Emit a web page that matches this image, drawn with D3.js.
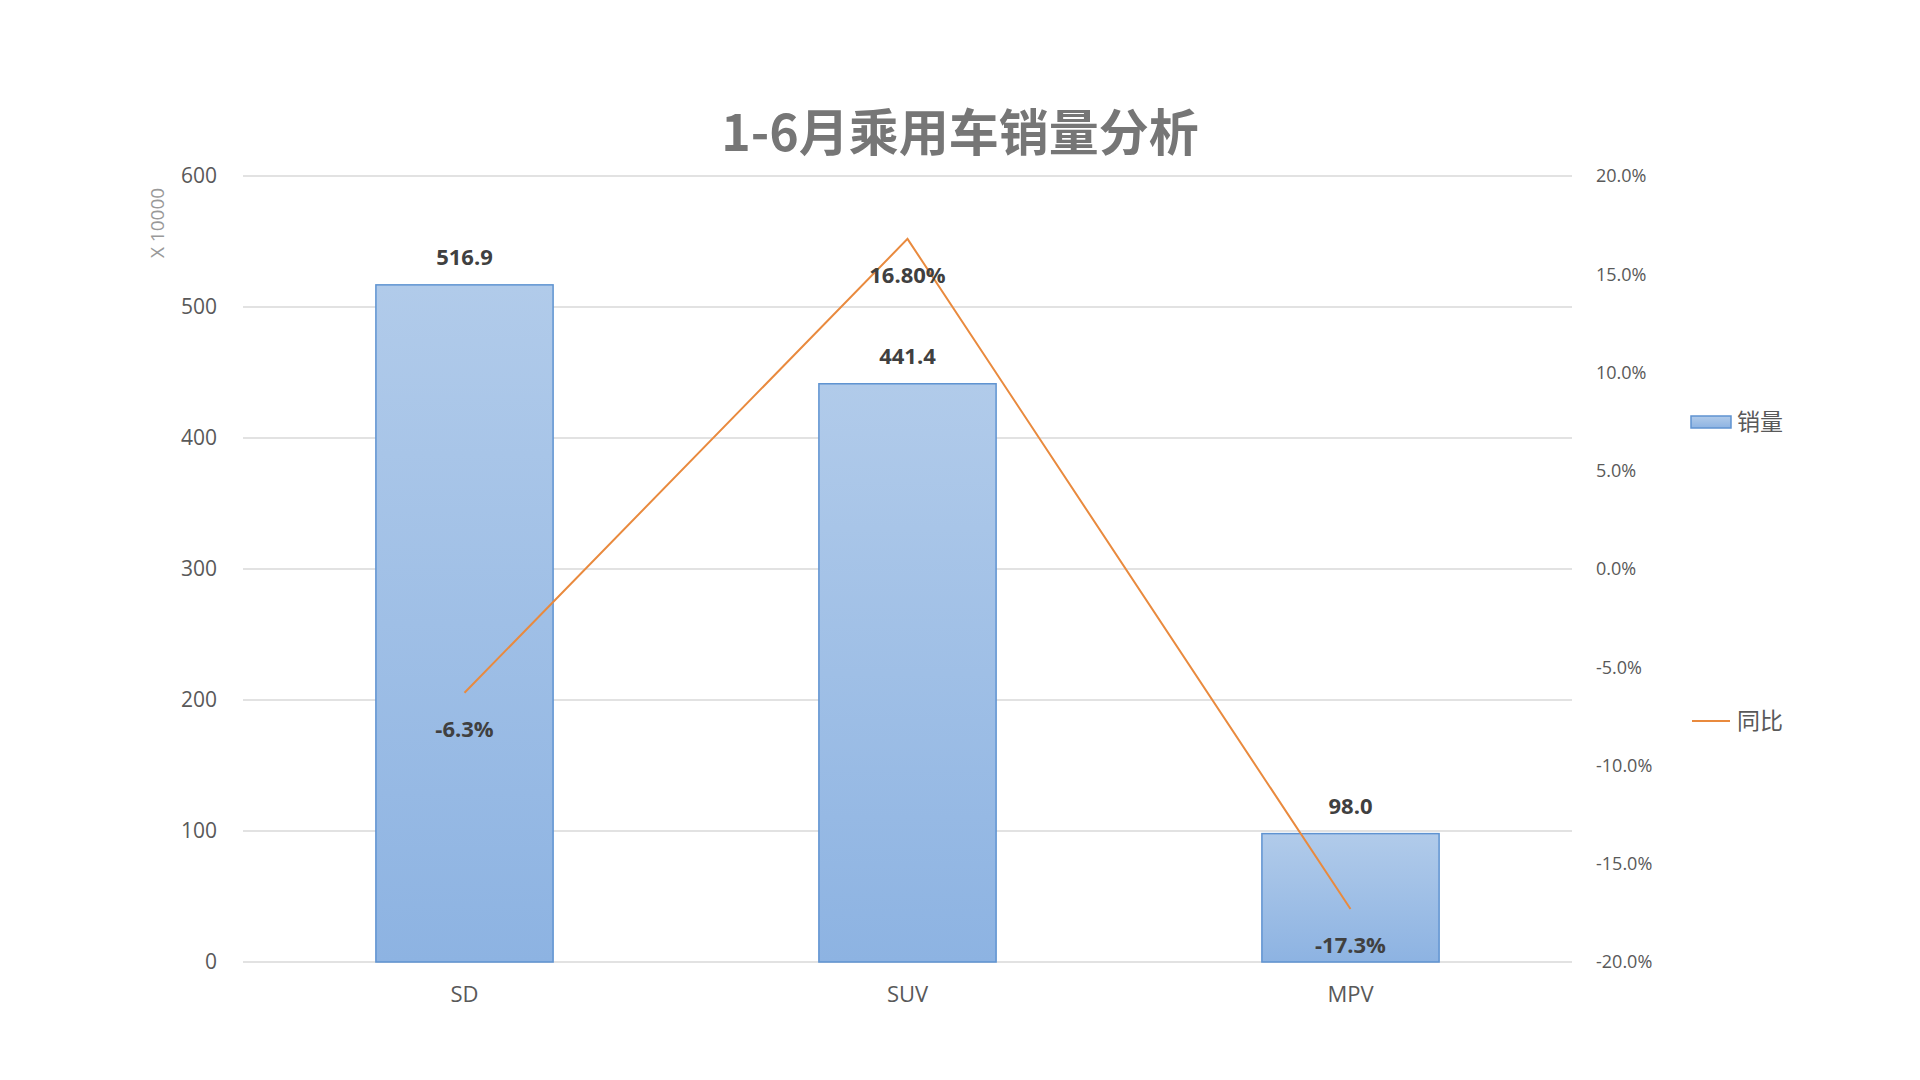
<!DOCTYPE html>
<html lang='zh'>

<head>
   <meta charset='UTF-8'>
   <title>1-6月乘用车销量分析</title>
   <style>
      body {
         margin: 0;
         background: #fff;
      }

      svg {
         display: block;
         font-family: 'Open Sans', 'Noto Sans CJK SC', sans-serif;
      }

      .grid line {
         stroke: #d9d9d9;
         stroke-width: 1.5;
      }

      .tick-label {
         fill: #595959;
      }

      .data-label {
         fill: #404040;
         font-weight: 700;
         font-size: 22px;
      }
   </style>
   <script src='https://cdnjs.cloudflare.com/ajax/libs/d3/7.8.5/d3.min.js'></script>
</head>

<body>
   <svg id='chart'></svg>

   <script>
      'use strict'

      // values
      const categories = ['SD', 'SUV', 'MPV']
      const sales = [516.9, 441.4, 98.0]          // 销量, x 10000
      const growth = [-0.063, 0.168, -0.173]      // 同比
      const growthLabels = ['-6.3%', '16.80%', '-17.3%']
      const leftTicks = [0, 100, 200, 300, 400, 500, 600]
      const rightTicks = [-0.2, -0.15, -0.1, -0.05, 0, 0.05, 0.1, 0.15, 0.2]
      const legendNames = ['销量', '同比']

      const width = 1920,
         height = 1080

      const svg = d3.select('#chart')
         .attr('width', width)
         .attr('height', height)

      const plot = { left: 243, right: 1572, top: 176, bottom: 962 }

      const x = d3.scaleBand(categories, [plot.left, plot.right])
         .paddingInner(0.6)
         .paddingOuter(0.3)

      const yLeft = d3.scaleLinear([0, 600], [plot.bottom, plot.top])
      const yRight = d3.scaleLinear([-0.2, 0.2], [plot.bottom, plot.top])

      // plain hyphen for negatives, like the original
      const pct = d3.formatLocale({ decimal: '.', thousands: ',', grouping: [3], currency: ['', ''], minus: '-' })
         .format('.1%')

      // bar gradient
      const grad = svg.append('defs').append('linearGradient')
         .attr('id', 'barFill')
         .attr('x1', 0).attr('y1', 0).attr('x2', 0).attr('y2', 1)
      grad.append('stop').attr('offset', '0%').attr('stop-color', '#b1cbea')
      grad.append('stop').attr('offset', '100%').attr('stop-color', '#8db3e2')

      // title
      svg.append('text')
         .attr('x', 960)
         .attr('y', 129)
         .attr('text-anchor', 'middle')
         .attr('dominant-baseline', 'central')
         .attr('font-size', 50)
         .attr('font-weight', 700)
         .attr('font-family', "'Noto Sans CJK SC', sans-serif")
         .attr('fill', '#767676')
         .text('1-6月乘用车销量分析')

      // gridlines
      svg.append('g')
         .attr('class', 'grid')
         .selectAll('line')
         .data(leftTicks)
         .join('line')
         .attr('x1', plot.left)
         .attr('x2', plot.right)
         .attr('y1', d => yLeft(d))
         .attr('y2', d => yLeft(d))

      function tidy(g, size) {
         g.attr('font-family', null).attr('font-size', null)
         g.select('.domain').remove()
         g.selectAll('text')
            .attr('class', 'tick-label')
            .attr('font-size', size)
      }

      // left axis
      svg.append('g')
         .attr('transform', `translate(${plot.left - 26},0)`)
         .call(d3.axisLeft(yLeft).tickValues(leftTicks).tickSize(0).tickPadding(0))
         .call(tidy, 21)

      // right axis
      svg.append('g')
         .attr('transform', `translate(${plot.right + 24},0)`)
         .call(d3.axisRight(yRight).tickValues(rightTicks).tickSize(0).tickPadding(0)
            .tickFormat(pct))
         .call(tidy, 18)

      // bottom axis
      svg.append('g')
         .attr('transform', `translate(0,${plot.bottom})`)
         .call(d3.axisBottom(x).tickSize(0).tickPadding(24))
         .call(tidy, 22)

      // unit label
      svg.append('text')
         .attr('transform', 'translate(157,223) rotate(-90)')
         .attr('text-anchor', 'middle')
         .attr('dominant-baseline', 'central')
         .attr('font-size', 19)
         .attr('fill', '#999')
         .text('X 10000')

      // bars
      svg.append('g')
         .selectAll('rect')
         .data(sales)
         .join('rect')
         .attr('x', (d, i) => x(categories[i]))
         .attr('y', d => yLeft(d))
         .attr('width', x.bandwidth())
         .attr('height', d => yLeft(0) - yLeft(d))
         .attr('fill', 'url(#barFill)')
         .attr('stroke', '#5f93d1')
         .attr('stroke-width', 1.5)

      // growth line
      const line = d3.line()
         .x((d, i) => x(categories[i]) + x.bandwidth() / 2)
         .y(d => yRight(d))

      svg.append('path')
         .datum(growth)
         .attr('d', line)
         .attr('fill', 'none')
         .attr('stroke', '#e98a3e')
         .attr('stroke-width', 2)

      // bar labels
      svg.append('g')
         .selectAll('text')
         .data(sales)
         .join('text')
         .attr('class', 'data-label')
         .attr('x', (d, i) => x(categories[i]) + x.bandwidth() / 2)
         .attr('y', d => yLeft(d) - 29)
         .attr('text-anchor', 'middle')
         .attr('dominant-baseline', 'central')
         .text(d => d3.format('.1f')(d))

      // growth labels
      svg.append('g')
         .selectAll('text')
         .data(growth)
         .join('text')
         .attr('class', 'data-label')
         .attr('x', (d, i) => x(categories[i]) + x.bandwidth() / 2)
         .attr('y', d => yRight(d) + 35)
         .attr('text-anchor', 'middle')
         .attr('dominant-baseline', 'central')
         .text((d, i) => growthLabels[i])

      // legend
      const legend = svg.append('g')
      legend.append('rect')
         .attr('x', 1691)
         .attr('y', 416)
         .attr('width', 40)
         .attr('height', 12)
         .attr('fill', 'url(#barFill)')
         .attr('stroke', '#5f93d1')
         .attr('stroke-width', 1.5)
      legend.append('line')
         .attr('x1', 1692)
         .attr('x2', 1730)
         .attr('y1', 721)
         .attr('y2', 721)
         .attr('stroke', '#e98a3e')
         .attr('stroke-width', 2)
      legend.selectAll('text')
         .data(legendNames)
         .join('text')
         .attr('x', 1737)
         .attr('y', (d, i) => i === 0 ? 420 : 719)
         .attr('dominant-baseline', 'central')
         .attr('font-size', 23)
         .attr('font-family', "'Noto Sans CJK SC', sans-serif")
         .attr('fill', '#595959')
         .text(d => d)
   </script>
</body>

</html>
